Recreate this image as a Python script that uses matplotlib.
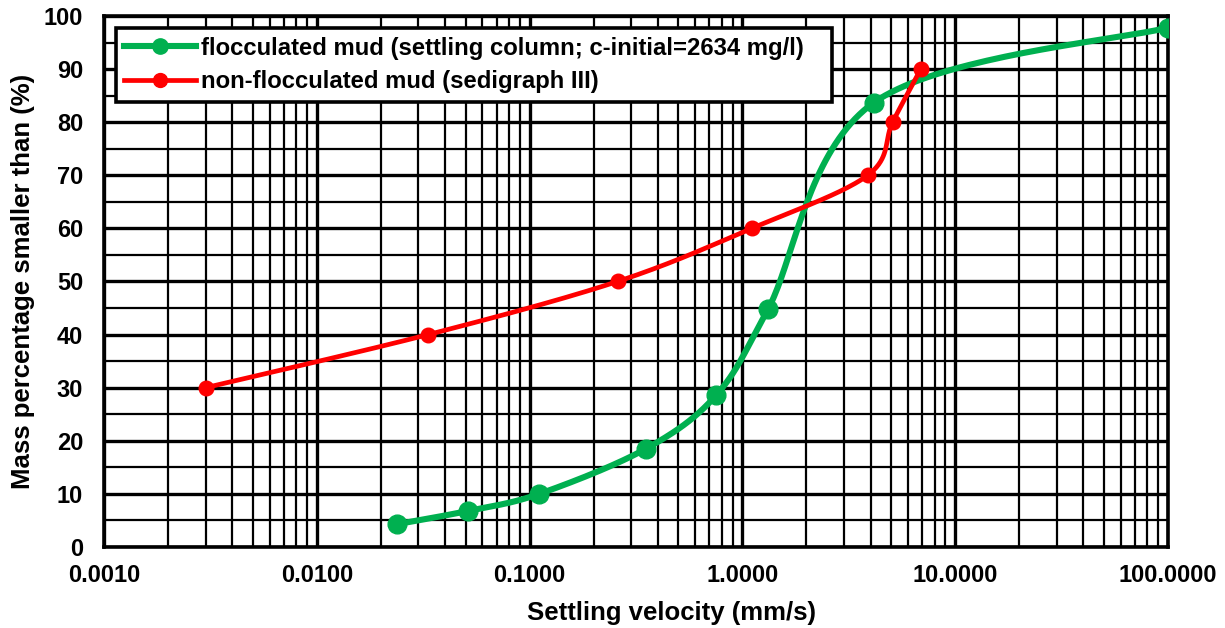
import matplotlib.pyplot as plt
import numpy as np
from matplotlib.ticker import FixedLocator, FuncFormatter, NullFormatter

plt.rcParams['font.family'] = ['Liberation Sans', 'DejaVu Sans']
plt.rcParams['font.weight'] = 'bold'

# data
floc_v = [0.0238, 0.0515, 0.111, 0.352, 0.753, 1.32, 4.15, 100.0]
floc_p = [4.3, 6.8, 10.0, 18.5, 28.6, 44.8, 83.7, 97.8]
nonfloc_v = [0.0030, 0.0334, 0.259, 1.106, 3.88, 5.08, 6.89]
nonfloc_p = [30, 40, 50, 60, 70, 80, 90]

floc_label = 'flocculated mud (settling column; c-initial=2634 mg/l)'
nonfloc_label = 'non-flocculated mud (sedigraph III)'


def smooth(xs, ys, n=40):
    # excel-like smoothed line, bezier segments in screen-ish units
    u = np.log10(xs) * 212.8
    v = np.asarray(ys, dtype=float) * 5.31
    p = np.column_stack([u, v])
    out = []
    for i in range(len(p) - 1):
        p0 = p[i - 1] if i > 0 else p[i]
        p3 = p[i + 2] if i + 2 < len(p) else p[i + 1]
        c1 = p[i] + (p[i + 1] - p0) / 6
        c2 = p[i + 1] - (p3 - p[i]) / 6
        t = np.linspace(0, 1, n)[:, None]
        seg = ((1 - t) ** 3 * p[i] + 3 * (1 - t) ** 2 * t * c1
               + 3 * (1 - t) * t ** 2 * c2 + t ** 3 * p[i + 1])
        out.append(seg)
    out = np.vstack(out)
    return 10 ** (out[:, 0] / 212.8), out[:, 1] / 5.31


fig = plt.figure(figsize=(12.25, 6.28), dpi=100)
ax = fig.add_axes([0.0849, 0.129, 0.8686, 0.8456])

ax.set_xscale('log')
ax.set_xlim(0.001, 100)
ax.set_ylim(0, 100)

ax.xaxis.set_major_locator(FixedLocator([0.001, 0.01, 0.1, 1, 10, 100]))
ax.xaxis.set_major_formatter(FuncFormatter(lambda x, pos: f'{x:.4f}'))
minors = [m * 10.0 ** e for e in range(-3, 2) for m in range(2, 10)]
ax.xaxis.set_minor_locator(FixedLocator(minors))
ax.xaxis.set_minor_formatter(NullFormatter())
ax.set_yticks(np.arange(0, 101, 10))
ax.set_yticks(np.arange(5, 100, 10), minor=True)

ax.grid(True, which='major', color='black', lw=2.4)
ax.grid(True, which='minor', color='black', lw=1.6)
ax.set_axisbelow(True)
for s in ax.spines.values():
    s.set_linewidth(2.6)
    s.set_color('black')
ax.tick_params(which='both', length=0, labelsize=17)
ax.tick_params(axis='x', pad=12)
ax.tick_params(axis='y', pad=15)

gx, gy = smooth(floc_v, floc_p)
ax.plot(gx, gy, color='#00b050', lw=4.4, zorder=3)
ax.plot(floc_v, floc_p, 'o', color='#00b050', ms=13.5, zorder=4)
rx, ry = smooth(nonfloc_v, nonfloc_p)
ax.plot(rx, ry, color='#ff0000', lw=3.4, zorder=5)
ax.plot(nonfloc_v, nonfloc_p, 'o', color='#ff0000', ms=10.5, zorder=6)

# legend proxies
ax.plot([], [], '-o', color='#00b050', lw=4.4, ms=11, label=floc_label + '   ')
ax.plot([], [], '-o', color='#ff0000', lw=3.4, ms=10, label=nonfloc_label)
leg = ax.legend(loc='upper left', bbox_to_anchor=(0.0113, 0.977),
                fontsize=17.2, frameon=True, fancybox=False, framealpha=1,
                edgecolor='black', borderpad=0.35, handlelength=3.0,
                handletextpad=0.2, labelspacing=0.45, borderaxespad=0)
leg.get_frame().set_linewidth(2.6)
leg.set_zorder(10)

ax.set_xlabel('Settling velocity (mm/s)', fontsize=18.5, fontweight='bold',
              labelpad=8)
ax.xaxis.set_label_coords(0.533, -0.125)
ax.xaxis.label.set_va('center')
ax.set_ylabel('Mass percentage smaller than (%)', fontsize=18.5,
              fontweight='bold', labelpad=6)

fig.savefig('out.png', dpi=100)
